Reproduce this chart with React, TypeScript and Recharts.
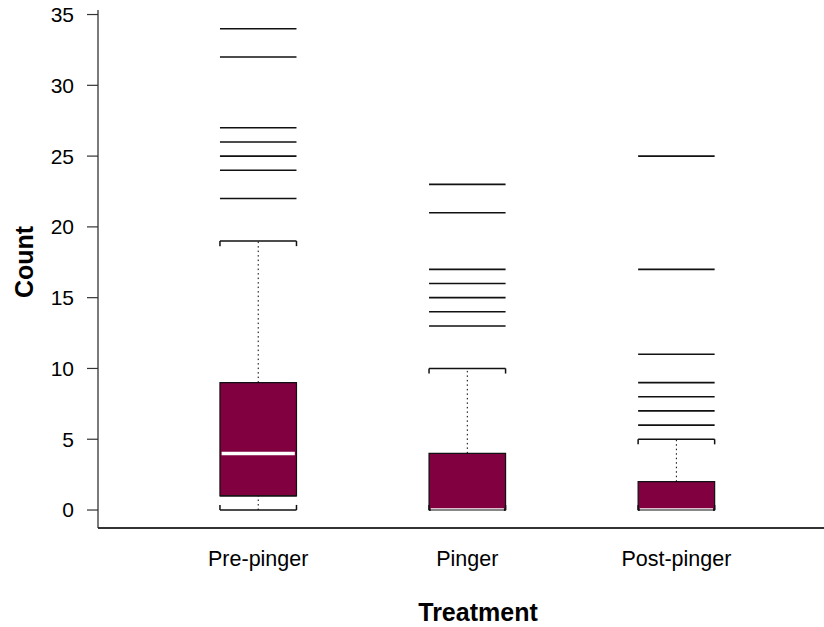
import React from 'react';
import { ComposedChart, XAxis, YAxis, ReferenceArea, ReferenceLine } from 'recharts';

// Treatments and their box-plot statistics (counts)
const treatments = ['Pre-pinger', 'Pinger', 'Post-pinger'];
const positions = [1, 2, 3];
const whiskerLow = [0, 0, 0];
const q1 = [1, 0, 0];
const medians = [4, 0, 0];
const q3 = [9, 4, 2];
const whiskerHigh = [19, 10, 5];

// Observations beyond the whiskers
const outliersPre = [22, 24, 25, 26, 27, 32, 34];
const outliersPinger = [13, 14, 15, 16, 17, 21, 23];
const outliersPost = [6, 7, 8, 9, 11, 17, 25];
const outliers = [outliersPre, outliersPinger, outliersPost];

const yTicks = [0, 5, 10, 15, 20, 25, 30, 35];

// Layout constants
const WIDTH = 824;
const HEIGHT = 627;
const HALF = 0.183; // half box width, in x-axis units
const CAP = 0.36; // length of the whisker staple ends, in count units
const BOX_FILL = '#800040';
const FONT = '"Liberation Sans", Arial, Helvetica, sans-serif';

const data = treatments.map((name, i) => ({ name, pos: positions[i], median: medians[i] }));

const YTitle = (props: any) => {
  const vb = props.viewBox || { x: 0, y: 10, width: 98, height: 518 };
  const cx = vb.x + 24;
  const cy = vb.y + vb.height / 2 - 7;
  return (
    <text
      x={cx}
      y={cy}
      transform={`rotate(-90 ${cx} ${cy})`}
      textAnchor="middle"
      dominantBaseline="central"
      fontFamily={FONT}
      fontWeight="bold"
      fontSize={25}
      fill="#000"
    >
      Count
    </text>
  );
};

const XTitle = (props: any) => {
  const vb = props.viewBox || { x: 98, y: 528, width: 726, height: 99 };
  const cx = vb.x + vb.width / 2 + 17;
  const by = vb.y + vb.height - 6;
  return (
    <text x={cx} y={by} textAnchor="middle" fontFamily={FONT} fontWeight="bold" fontSize={25} fill="#000">
      Treatment
    </text>
  );
};

export default function App() {
  const elements: React.ReactNode[] = [];

  positions.forEach((p, i) => {
    const left = p - HALF;
    const right = p + HALF;

    // upper whisker (dotted) and staple
    elements.push(
      <ReferenceLine
        key={`wu-${i}`}
        segment={[{ x: p, y: q3[i] }, { x: p, y: whiskerHigh[i] }]}
        stroke="#000"
        strokeWidth={1}
        strokeDasharray="1.5 3"
      />
    );
    elements.push(
      <ReferenceLine
        key={`su-${i}`}
        segment={[{ x: left, y: whiskerHigh[i] }, { x: right, y: whiskerHigh[i] }]}
        stroke="#111"
        strokeWidth={1.5}
      />
    );
    elements.push(
      <ReferenceLine
        key={`sul-${i}`}
        segment={[{ x: left, y: whiskerHigh[i] }, { x: left, y: whiskerHigh[i] - CAP }]}
        stroke="#111"
        strokeWidth={1.5}
      />
    );
    elements.push(
      <ReferenceLine
        key={`sur-${i}`}
        segment={[{ x: right, y: whiskerHigh[i] }, { x: right, y: whiskerHigh[i] - CAP }]}
        stroke="#111"
        strokeWidth={1.5}
      />
    );

    // lower whisker (dotted) and staple
    if (q1[i] > whiskerLow[i]) {
      elements.push(
        <ReferenceLine
          key={`wl-${i}`}
          segment={[{ x: p, y: whiskerLow[i] }, { x: p, y: q1[i] }]}
          stroke="#000"
          strokeWidth={1}
          strokeDasharray="1.5 3"
        />
      );
    }
    elements.push(
      <ReferenceLine
        key={`sl-${i}`}
        segment={[{ x: left, y: whiskerLow[i] }, { x: right, y: whiskerLow[i] }]}
        stroke="#111"
        strokeWidth={1.5}
      />
    );
    elements.push(
      <ReferenceLine
        key={`sll-${i}`}
        segment={[{ x: left, y: whiskerLow[i] }, { x: left, y: whiskerLow[i] + CAP }]}
        stroke="#111"
        strokeWidth={1.5}
      />
    );
    elements.push(
      <ReferenceLine
        key={`slr-${i}`}
        segment={[{ x: right, y: whiskerLow[i] }, { x: right, y: whiskerLow[i] + CAP }]}
        stroke="#111"
        strokeWidth={1.5}
      />
    );

    // box
    elements.push(
      <ReferenceArea
        key={`box-${i}`}
        x1={left}
        x2={right}
        y1={q1[i]}
        y2={q3[i]}
        fill={BOX_FILL}
        fillOpacity={1}
        stroke="#111"
        strokeWidth={1.2}
      />
    );

    // median
    elements.push(
      <ReferenceLine
        key={`med-${i}`}
        segment={[{ x: left + 0.008, y: medians[i] }, { x: right - 0.008, y: medians[i] }]}
        stroke="#fff"
        strokeWidth={3.5}
      />
    );
    // box bottom edge redrawn above the median
    elements.push(
      <ReferenceLine
        key={`bb-${i}`}
        segment={[{ x: left, y: q1[i] }, { x: right, y: q1[i] }]}
        stroke="#111"
        strokeWidth={1.2}
      />
    );

    // outliers drawn as horizontal dashes spanning the box width
    outliers[i].forEach((v, j) => {
      elements.push(
        <ReferenceLine
          key={`out-${i}-${j}`}
          segment={[{ x: left, y: v }, { x: right, y: v }]}
          stroke="#111"
          strokeWidth={1.6}
        />
      );
    });
  });

  return (
    <div style={{ position: 'absolute', left: 0, top: 0, background: '#fff' }}>
      <ComposedChart width={WIDTH} height={HEIGHT} data={data} margin={{ top: 10, right: 0, bottom: 0, left: 0 }}>
        <XAxis
          xAxisId={0}
          dataKey="pos"
          type="number"
          domain={[0.2337, 3.706]}
          allowDataOverflow
          ticks={positions}
          tickFormatter={(v: number) => treatments[positions.indexOf(v)] ?? ''}
          tickLine={false}
          tickSize={8}
          tickMargin={15}
          height={99}
          axisLine={{ stroke: '#333', strokeWidth: 2 }}
          tick={{ fill: '#000', fontSize: 21.5, fontFamily: FONT }}
          label={<XTitle />}
        />
        <XAxis
          xAxisId="top"
          orientation="top"
          dataKey="pos"
          type="number"
          domain={[0.2337, 3.706]}
          allowDataOverflow
          height={0}
          tick={false}
          tickLine={false}
          axisLine={{ stroke: '#000', strokeWidth: 1.2 }}
        />
        <YAxis
          type="number"
          domain={[-1.27, 35.32]}
          allowDataOverflow
          ticks={yTicks}
          width={98}
          tickSize={11}
          tickMargin={13}
          tickLine={{ stroke: '#333', strokeWidth: 1.2 }}
          axisLine={{ stroke: '#222', strokeWidth: 1.2 }}
          tick={{ fill: '#000', fontSize: 21, fontFamily: FONT }}
          label={<YTitle />}
        />
        {elements}
      </ComposedChart>
    </div>
  );
}
